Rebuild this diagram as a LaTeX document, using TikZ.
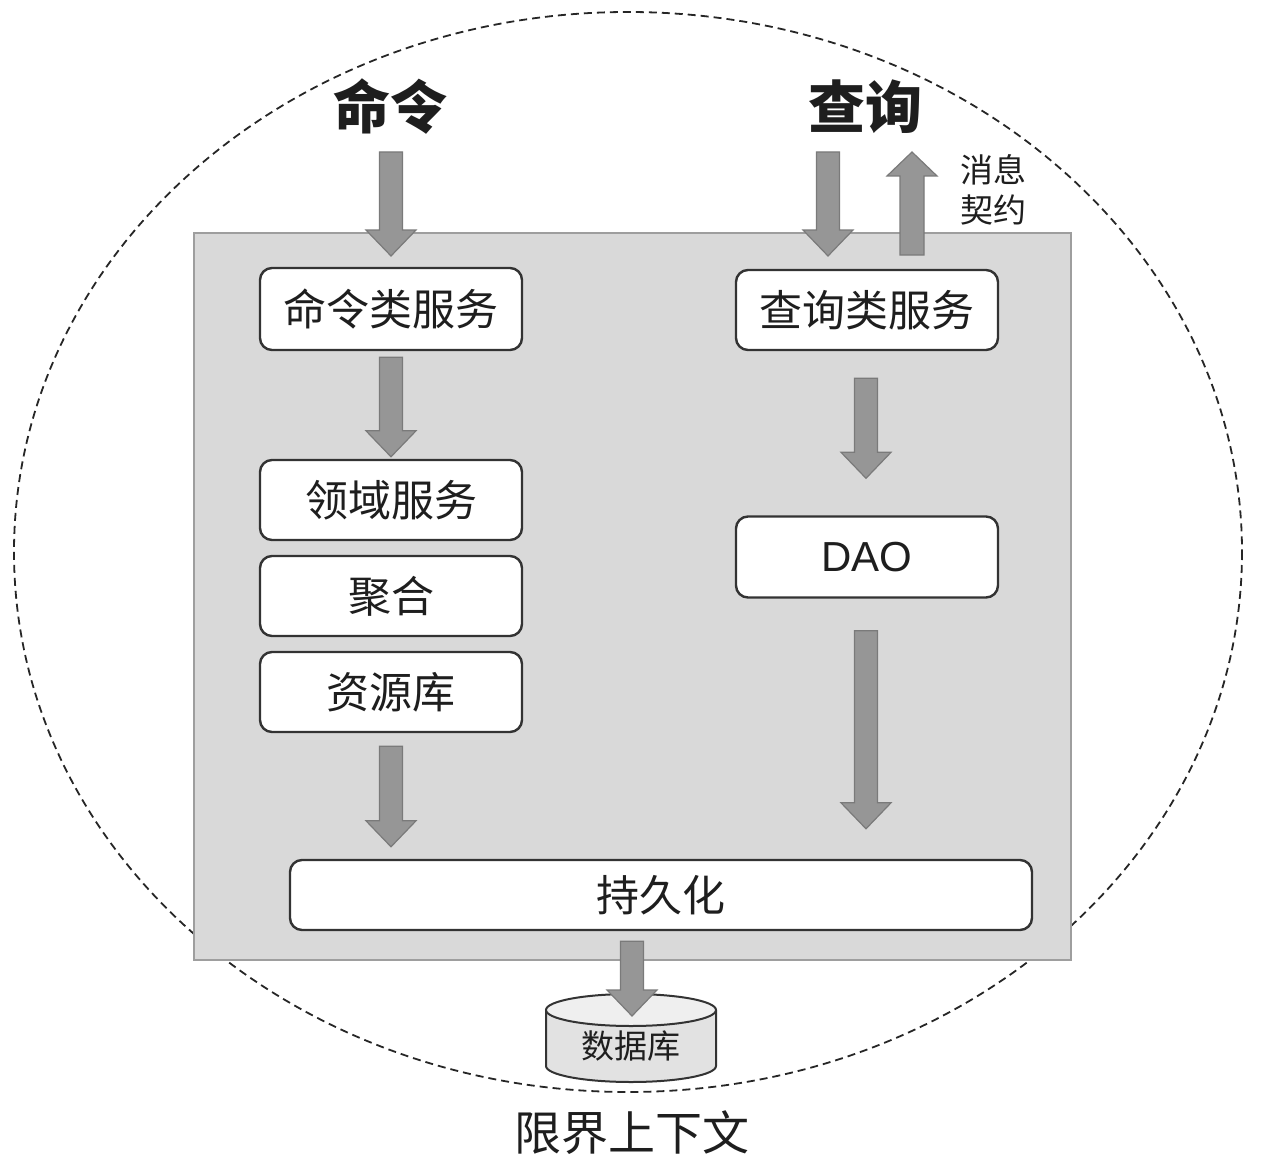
\documentclass[tikz,border=0pt]{standalone}
\usepackage{fontspec}
\newfontfamily\cjk{Noto Sans CJK SC}
\usetikzlibrary{calc}
\definecolor{ctxfill}{HTML}{D9D9D9}
\definecolor{ctxline}{HTML}{9E9E9E}
\definecolor{arrfill}{HTML}{969696}
\definecolor{arrline}{HTML}{7A7A7A}
\definecolor{boxline}{HTML}{333333}
\definecolor{txt}{HTML}{1E1E1E}
\definecolor{dbfill}{HTML}{E2E2E2}
\definecolor{dbtop}{HTML}{EFEFEF}
\tikzset{
  every node/.style={font=\cjk, text=txt},
  ctx/.style={draw=ctxline, fill=ctxfill, line width=2pt, minimum width=877pt, minimum height=727pt},
  svcbox/.style={draw=boxline, fill=white, line width=2.4pt, rounded corners=12pt, minimum width=262pt, minimum height=80pt, font=\cjk\fontsize{43}{50}\selectfont},
  blockarr/.style={draw=arrline, fill=arrfill, line width=1.2pt, line join=miter},
  heading/.style={font=\cjk\bfseries\fontsize{57}{64}\selectfont},
}
\newcommand\downarr[2]{\draw[blockarr] let \p1=#1, \p2=#2 in
  (\x1-11.5pt,\y1) -- (\x1+11.5pt,\y1) -- (\x1+11.5pt,\y2+26pt) -- (\x1+25pt,\y2+26pt)
  -- (\x1,\y2) -- (\x1-25pt,\y2+26pt) -- (\x1-11.5pt,\y2+26pt) -- cycle;}
\newcommand\uparr[2]{\draw[blockarr] let \p1=#1, \p2=#2 in
  (\x1-12pt,\y1) -- (\x1+12pt,\y1) -- (\x1+12pt,\y2-24pt) -- (\x1+25pt,\y2-24pt)
  -- (\x1,\y2) -- (\x1-25pt,\y2-24pt) -- (\x1-12pt,\y2-24pt) -- cycle;}
\begin{document}
\begin{tikzpicture}[x=1pt,y=-1pt]
\useasboundingbox (0,0) rectangle (1266,1161);
% bounded context ellipse
\draw[dashed, dash pattern=on 8pt off 5pt, line width=1.8pt, draw=black!85] (628,552) ellipse [x radius=614, y radius=540];
% context rectangle
\node[ctx] (ctx) at (632.5,596.5) {};
% boxes
\node[svcbox, minimum height=82pt] (cmdsvc) at (391,309) {命令类服务};
\node[svcbox] (domain) at (391,500) {领域服务};
\node[svcbox] (agg) at (391,596) {聚合};
\node[svcbox] (repo) at (391,692) {资源库};
\node[svcbox] (qrysvc) at (867,310) {查询类服务};
\node[svcbox, minimum height=81pt, font=\fontspec{Liberation Sans}\fontsize{42}{50}\selectfont] (dao) at (867,557) {DAO};
\node[svcbox, minimum width=742pt, minimum height=70pt] (persist) at (661,895) {持久化};
% database cylinder
\draw[draw=boxline, fill=dbfill, line width=2pt] (546,1010) -- (546,1066) arc[start angle=180, end angle=0, x radius=85, y radius=16] -- (716,1010);
\draw[draw=boxline, fill=dbtop, line width=2pt] (631,1010) ellipse [x radius=85, y radius=16];
\node[font=\cjk\fontsize{33}{38}\selectfont] (db) at (631,1046) {数据库};
\coordinate (dbtip) at (632,1016);
% headings
\node[heading] (cmd) at (390,107) {命令};
\node[heading] (qry) at (865,107) {查询};
\node[font=\cjk\fontsize{33}{40}\selectfont, align=center] (contract) at (993,190) {消息\\契约};
\node[font=\cjk\fontsize{47}{54}\selectfont] (bc) at (632,1133) {限界上下文};
% free ends of arrows
\coordinate (cmdin) at (391,152);
\coordinate (cmdintip) at (391,256);
\coordinate (qryin) at (828,152);
\coordinate (qryintip) at (828,256);
\coordinate (qryoutbase) at (912,255);
\coordinate (qryouttip) at (912,152);
% arrows
\downarr{(cmdin)}{(cmdintip)}
\downarr{(qryin)}{(qryintip)}
\uparr{(qryoutbase)}{(qryouttip)}
\downarr{($(cmdsvc.south)+(0,6)$)}{($(domain.north)+(0,-2)$)}
\downarr{($(repo.south)+(0,13)$)}{($(repo.south |- persist.north)+(0,-12)$)}
\downarr{($(qrysvc.south)+(-1,27)$)}{($(dao.north)+(0,-37)$)}
\downarr{($(dao.south)+(-1,32)$)}{($(dao.south |- persist.north)+(0,-30)$)}
\downarr{($(persist.south -| dbtip)+(0,10)$)}{(dbtip)}
\end{tikzpicture}
\end{document}
